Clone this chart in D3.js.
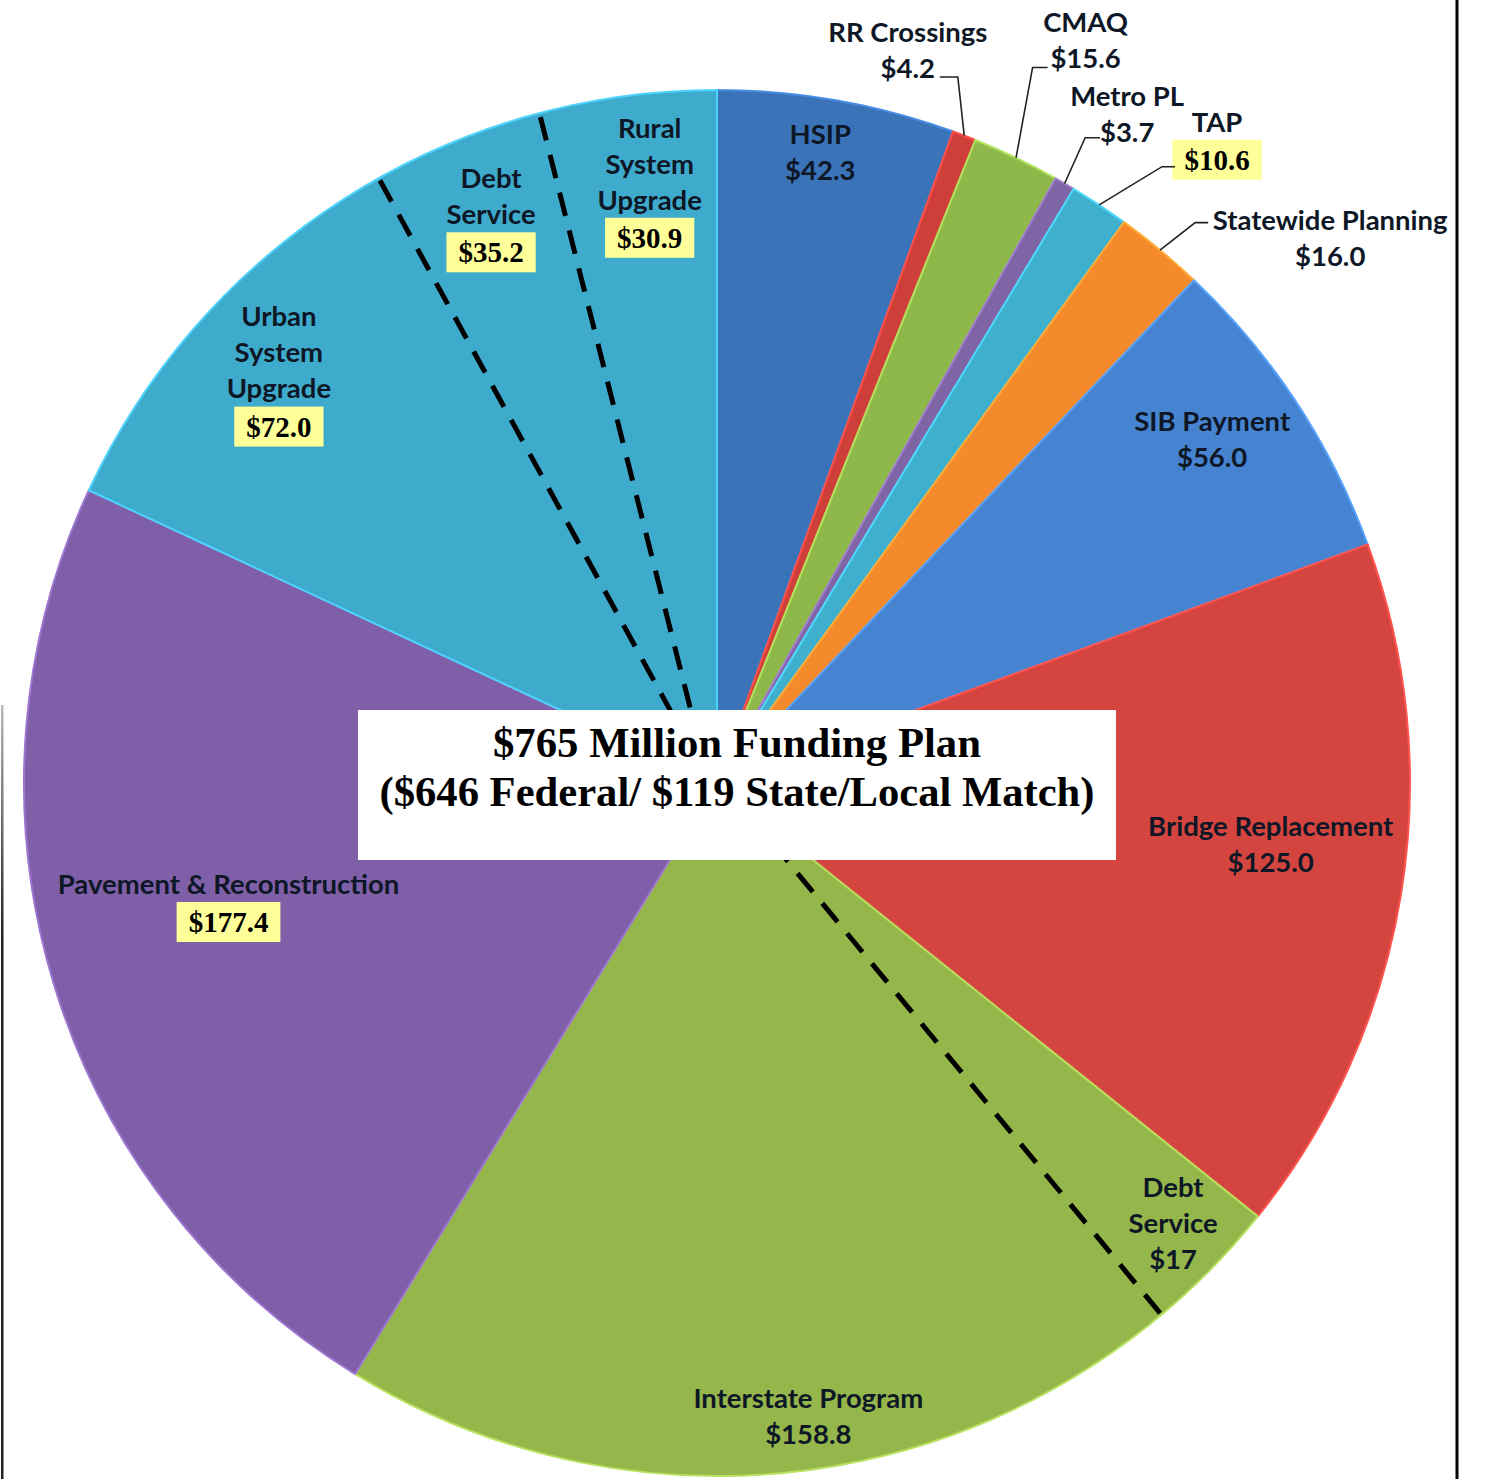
<!DOCTYPE html>
<html>
<head>
<meta charset="utf-8">
<script src="https://cdn.jsdelivr.net/npm/d3@7"></script>
<style>
  html, body { margin: 0; padding: 0; background: #fff; }
  .lbl { font-family: Lato, "Open Sans", sans-serif; font-weight: 700; fill: #0e1726; }
  .val { font-family: "Liberation Serif", "Times New Roman", serif; font-weight: 700; fill: #000; }
  .title { font-family: "Liberation Serif", "Times New Roman", serif; font-weight: 700; fill: #000; }
</style>
</head>
<body>
<svg id="chart"></svg>
<script>
// *******************
// data (millions of dollars), clockwise from 12 o'clock
// *******************
const categories = [
  "HSIP", "RR Crossings", "CMAQ", "Metro PL", "TAP", "Statewide Planning",
  "SIB Payment", "Bridge Replacement", "Debt Service (Interstate)", "Interstate Program",
  "Pavement & Reconstruction", "Urban System Upgrade", "Debt Service", "Rural System Upgrade"
];
const values = [42.3, 4.2, 15.6, 3.7, 10.6, 16.0, 56.0, 125.0, 17, 158.8, 177.4, 72.0, 35.2, 30.9];
const valueLabels = ["$42.3", "$4.2", "$15.6", "$3.7", "$10.6", "$16.0", "$56.0", "$125.0",
  "$17", "$158.8", "$177.4", "$72.0", "$35.2", "$30.9"];
// slices that share one colour and are split by dashed lines
const groups = ["hsip", "rr", "cmaq", "metro", "tap", "swp", "sib", "bridge",
  "interstate", "interstate", "pavement", "system", "system", "system"];
const labelLines = [
  ["HSIP"], ["RR Crossings"], ["CMAQ"], ["Metro PL"], ["TAP"], ["Statewide Planning"],
  ["SIB Payment"], ["Bridge Replacement"], ["Debt", "Service"], ["Interstate Program"],
  ["Pavement & Reconstruction"], ["Urban", "System", "Upgrade"], ["Debt", "Service"],
  ["Rural", "System", "Upgrade"]
];
const highlighted = [false, false, false, false, true, false, false, false, false, false,
  true, true, true, true];
const titleLines = ["$765 Million Funding Plan", "($646 Federal/ $119 State/Local Match)"];

// *******************
// layout / styles
// *******************
const WIDTH = 1486;
const HEIGHT = 1479;
const CENTER = { X: 717, Y: 783 };
const RADIUS = 693;
const LINE_H = 36;
const LABEL_SIZE = 27.5;

const COLORS = {
  hsip: "#3b73b9",
  rr: "#cf3f3a",
  cmaq: "#8fb84a",
  metro: "#8065a6",
  tap: "#3eafcd",
  swp: "#f58a2c",
  sib: "#4683d1",
  bridge: "#d5453f",
  interstate: "#94b64b",
  pavement: "#7f5fa8",
  system: "#3eabcc",
};

// label block centre in polar form: [angle (deg, clockwise from north), radius px]
const labelPolar = [
  [9.3, 639], [14.6, 757], [26.4, 829], [31.5, 785], [37.9, 814], [48.4, 820],
  [55.2, 603], [96.3, 557], [134.0, 634], [171.8, 640], [256.2, 503], [313.2, 601],
  [338.3, 611], [353.6, 604]
];
// leader line elbow and end, relative to the label centre
const leaders = {
  1: [[50, 26.5], [32, 26.5]],
  2: [[-53, 27], [-38, 27]],
  3: [[-42, 24], [-27, 24]],
  4: [[-55, 26], [-42, 26]],
  5: [[-135, -16], [-122, -16]],
};
// the dashed dividers were drawn by hand in the original, a little off the true boundary (deg)
const dividerNudge = [3.4, 1.9, -0.3];

const svg = d3.select("#chart").attr("width", WIDTH).attr("height", HEIGHT);

const data = categories.map((c, i) => ({
  name: c, value: values[i], group: groups[i], label: valueLabels[i],
  lines: labelLines[i], hl: highlighted[i], index: i
}));

const pie = d3.pie().sort(null).value((d) => d.value);
const arcs = pie(data);
const arc = d3.arc().innerRadius(0).outerRadius(RADIUS);

// merge neighbouring slices of the same group so only one outline is drawn
const merged = [];
arcs.forEach((a) => {
  const last = merged[merged.length - 1];
  if (last && last.group === a.data.group) {
    last.endAngle = a.endAngle;
    last.parts.push(a);
  } else {
    merged.push({ group: a.data.group, startAngle: a.startAngle, endAngle: a.endAngle, parts: [a] });
  }
});

const g = svg.append("g").attr("transform", `translate(${CENTER.X},${CENTER.Y})`);

g.selectAll("path.slice")
  .data(merged)
  .join("path")
  .attr("class", "slice")
  .attr("d", (d) => arc({ startAngle: d.startAngle, endAngle: d.endAngle, padAngle: 0 }))
  .attr("fill", (d) => COLORS[d.group])
  .attr("stroke", (d) => d3.color(COLORS[d.group]).brighter(0.6))
  .attr("stroke-width", 2)
  .attr("stroke-linejoin", "round");

// dashed dividers inside merged groups
const dividers = merged
  .flatMap((m) => m.parts.slice(1).map((p) => p.startAngle))
  .map((a, i) => a + ((dividerNudge[i] || 0) * Math.PI) / 180);
g.selectAll("line.divider")
  .data(dividers)
  .join("line")
  .attr("class", "divider")
  .attr("x1", (a) => -8 * Math.cos(a)).attr("y1", 0)
  .attr("x2", (a) => RADIUS * Math.sin(a))
  .attr("y2", (a) => -RADIUS * Math.cos(a))
  .attr("stroke", "#000")
  .attr("stroke-width", 5)
  .attr("stroke-dasharray", "24 15");

// title box over the centre
const box = svg.append("g");
box.append("rect")
  .attr("x", 358).attr("y", 710).attr("width", 758).attr("height", 150)
  .attr("fill", "#fff");
const titleWidths = [488, 715];
box.selectAll("text")
  .data(titleLines)
  .join("text")
  .attr("class", "title")
  .attr("x", 737)
  .attr("y", (d, i) => 757 + i * 49)
  .attr("text-anchor", "middle")
  .attr("font-size", 42)
  .attr("textLength", (d, i) => titleWidths[i])
  .attr("lengthAdjust", "spacingAndGlyphs")
  .text((d) => d);

// labels
const polar = (angDeg, r) => {
  const a = (angDeg * Math.PI) / 180;
  return [CENTER.X + r * Math.sin(a), CENTER.Y - r * Math.cos(a)];
};

const labels = svg.append("g");
arcs.forEach((a, i) => {
  const d = a.data;
  const [cx, cy] = polar(labelPolar[i][0], labelPolar[i][1]);
  const rows = d.lines.length + 1;
  const valGap = d.hl ? 38 : LINE_H;
  const blockH = (rows - 2) * LINE_H + valGap;
  const top = cy - blockH / 2;

  d.lines.forEach((t, k) => {
    labels.append("text")
      .attr("class", "lbl")
      .attr("x", cx)
      .attr("y", top + k * LINE_H)
      .attr("dy", "0.36em")
      .attr("text-anchor", "middle")
      .attr("font-size", LABEL_SIZE)
      .text(t);
  });

  const vy = top + (rows - 2) * LINE_H + valGap;
  if (d.hl) {
    const vt = labels.append("text")
      .attr("class", "val")
      .attr("x", cx)
      .attr("y", vy)
      .attr("dy", "0.35em")
      .attr("text-anchor", "middle")
      .attr("font-size", 29)
      .text(d.label);
    const w = vt.node().getComputedTextLength() + 24;
    labels.insert("rect", () => vt.node())
      .attr("x", cx - w / 2)
      .attr("y", vy - 20)
      .attr("width", w)
      .attr("height", 40)
      .attr("fill", "#ffff99");
  } else {
    labels.append("text")
      .attr("class", "lbl")
      .attr("x", cx)
      .attr("y", vy)
      .attr("dy", "0.36em")
      .attr("text-anchor", "middle")
      .attr("font-size", LABEL_SIZE)
      .text(d.label);
  }

  if (leaders[i]) {
    const mid = (a.startAngle + a.endAngle) / 2;
    const start = [CENTER.X + RADIUS * Math.sin(mid), CENTER.Y - RADIUS * Math.cos(mid)];
    const pts = [start, ...leaders[i].map(([dx, dy]) => [cx + dx, cy + dy])];
    labels.append("path")
      .attr("d", d3.line()(pts))
      .attr("fill", "none")
      .attr("stroke", "#222")
      .attr("stroke-width", 1.6);
  }
});

// frame lines at the picture edges
const fade = svg.append("defs").append("linearGradient")
  .attr("id", "leftFade").attr("x1", 0).attr("y1", 0).attr("x2", 0).attr("y2", 1);
fade.append("stop").attr("offset", 0).attr("stop-color", "#bbb");
fade.append("stop").attr("offset", 0.3).attr("stop-color", "#222");
svg.append("rect").attr("x", 1).attr("y", 705).attr("width", 2.5).attr("height", HEIGHT - 705)
  .attr("fill", "url(#leftFade)");
svg.append("line")
  .attr("x1", 1457).attr("y1", 0).attr("x2", 1457).attr("y2", HEIGHT)
  .attr("stroke", "#000").attr("stroke-width", 3);
</script>
</body>
</html>
